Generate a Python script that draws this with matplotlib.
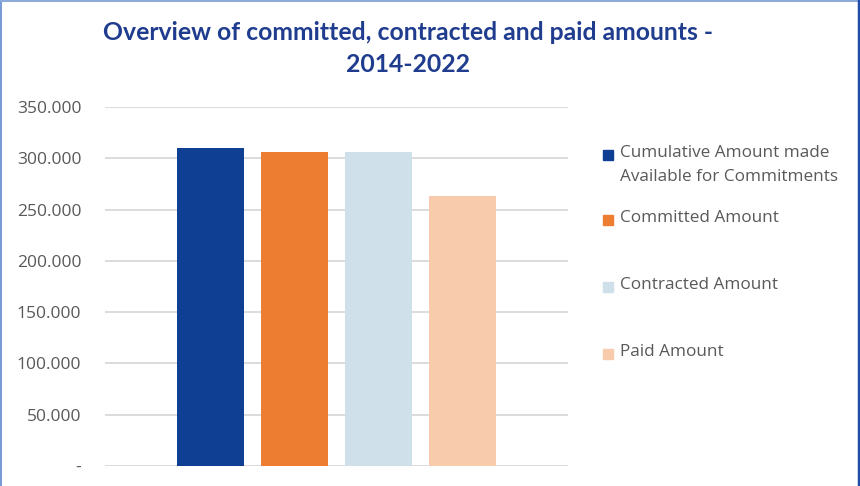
import matplotlib.pyplot as plt
from matplotlib.lines import Line2D
from matplotlib.patches import Rectangle
from matplotlib.ticker import FuncFormatter

plt.rcParams['font.family'] = ['Open Sans', 'DejaVu Sans']

series = ['Cumulative Amount made\nAvailable for Commitments',
          'Committed Amount', 'Contracted Amount', 'Paid Amount']
amounts = [310000, 306000, 306000, 263000]
colors = ['#0F3F93', '#ED7D31', '#CFE0EA', '#F8CBAD']
yticks = [0, 50000, 100000, 150000, 200000, 250000, 300000, 350000]


def thousands(v, pos):
    if v == 0:
        return '-'
    return '{:,.0f}'.format(v).replace(',', '.')


fig = plt.figure(figsize=(8.6, 4.86), dpi=100)
ax = fig.add_axes([105 / 860, 20 / 486, 463 / 860, 359 / 486])

x = list(range(len(amounts)))
ax.bar(x, amounts, width=0.79, color=colors, zorder=3)
ax.set_xlim(-1.256, 4.256)
ax.set_ylim(0, 350000)
ax.set_yticks(yticks)
ax.yaxis.set_major_formatter(FuncFormatter(thousands))
ax.set_xticks([])
ax.grid(axis='y', color='#D9D9D9', linewidth=1.3, zorder=0)
for s in ax.spines.values():
    s.set_visible(False)
ax.tick_params(axis='y', length=0, pad=17, labelsize=12.5, labelcolor='#595959')

title_font = ['Lato', 'Open Sans', 'DejaVu Sans']
fig.text(408 / 860, 1 - 33 / 486, 'Overview of committed, contracted and paid amounts -',
         ha='center', va='center', fontsize=17.8, fontweight='bold',
         color='#1F3C8F', family=title_font)
fig.text(408 / 860, 1 - 65 / 486, '2014-2022', ha='center', va='center',
         fontsize=17.8, fontweight='bold', color='#1F3C8F', family=title_font)

# legend drawn by hand so the rows sit where they should
legend_y = [155, 220, 287, 354]
for label, c, ly in zip(series, colors, legend_y):
    fig.add_artist(Rectangle((603 / 860, 1 - (ly + 5) / 486), 10 / 860, 10 / 486,
                             transform=fig.transFigure, color=c))
    fig.text(620 / 860, 1 - (ly - 10) / 486, label, ha='left', va='top',
             fontsize=12.3, color='#595959', linespacing=1.68)

# frame around the chart
fig.add_artist(Line2D([1 / 860, 1 / 860], [0, 1], transform=fig.transFigure,
                      color='#7A9BD8', linewidth=1.5))
fig.add_artist(Line2D([0, 1], [1 - 1 / 486, 1 - 1 / 486], transform=fig.transFigure,
                      color='#8EAADB', linewidth=1.5))
fig.add_artist(Line2D([858.5 / 860, 858.5 / 860], [0, 1], transform=fig.transFigure,
                      color='#1F4EAA', linewidth=2.5))

fig.savefig('out.png', dpi=100)
